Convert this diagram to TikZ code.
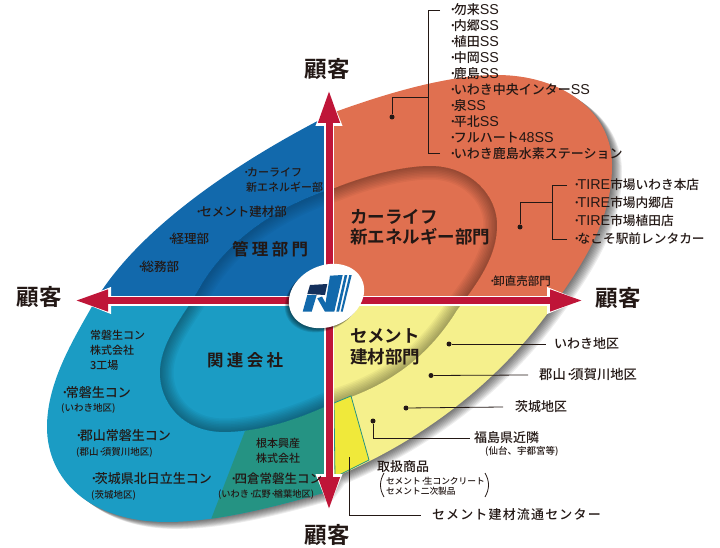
\documentclass[tikz,border=0pt]{standalone}
\usepackage{fontspec}
\setmainfont{Noto Sans CJK JP Medium}[BoldFont={Noto Sans CJK JP Bold}]
\newfontfamily\latinfont{Liberation Sans}
\usetikzlibrary{arrows.meta,shapes.geometric}

\definecolor{carorange}{HTML}{E07050}
\definecolor{kanriblue}{HTML}{1269AC}
\definecolor{kanrencyan}{HTML}{1B9CC4}
\definecolor{negiteal}{HTML}{259383}
\definecolor{cementyellow}{HTML}{F5F08C}
\definecolor{centeryellow}{HTML}{F0E93A}
\definecolor{axisred}{HTML}{BF1538}
\definecolor{inkdark}{HTML}{231815}
\definecolor{logonavy}{HTML}{14305C}

\newcommand{\outerblob}{(90,310) .. controls (130,235) and (230,165) .. (335,112) .. controls (390,92) and (450,75) .. (497,75) .. controls (560,75) and (612,110) .. (612,165) .. controls (612,215) and (590,255) .. (550,310) .. controls (505,372) and (435,435) .. (335,477) -- (323,493) .. controls (270,508) and (215,522) .. (167,522) .. controls (90,522) and (47,480) .. (47,427) .. controls (47,385) and (70,345) .. (90,310) -- cycle}
\newcommand{\innerblob}{(197,293) .. controls (225,240) and (280,205) .. (335,188) .. controls (375,172) and (410,166) .. (430,166) .. controls (470,166) and (497,195) .. (497,225) .. controls (497,255) and (480,280) .. (457,310) .. controls (425,362) and (382,388) .. (333,403) .. controls (300,418) and (265,431) .. (225,432) .. controls (180,432) and (160,400) .. (160,373) .. controls (160,345) and (180,320) .. (197,293) -- cycle}
\newcommand{\ldot}{{\bfseries ·}\kern-.24em}
\newcommand{\ltn}[1]{{\latinfont\fontsize{14.3}{15}\selectfont #1}}

\tikzset{
    txt/.style={inner sep=0pt,anchor=west,text=inkdark,align=left},
    big/.style={txt,font=\fontsize{13}{16}\selectfont},
    mid/.style={txt,font=\fontsize{12.5}{16}\selectfont},
    sml/.style={txt,font=\fontsize{11}{15}\selectfont},
    tiny/.style={txt,font=\fontsize{9.5}{11}\selectfont},
    dept/.style={txt,font=\fontsize{17.5}{20.5}\selectfont\bfseries},
    deptwide/.style={txt,font=\fontsize{16.5}{20}\selectfont\bfseries\addfontfeature{LetterSpace=20}},
    customer/.style={inner sep=0pt,text=inkdark,font=\fontsize{22.5}{24}\selectfont\bfseries},
    leader/.style={draw=inkdark,line width=.8pt},
    dotmark/.style={circle,fill=inkdark,inner sep=0pt,minimum size=5pt},
}

\begin{document}
\begin{tikzpicture}[x=1pt,y=-1pt]
    \useasboundingbox (0,0) rectangle (720,548);

    \foreach \s in {1,...,10}
        \fill[black,opacity=.07,shift={(\s,.7*\s)}] \outerblob;

    \begin{scope}
        \clip \outerblob;
        \fill[kanriblue] (0,0) rectangle (329,300);
        \fill[carorange] (329,0) rectangle (720,300);
        \fill[kanrencyan] (0,300) rectangle (329,548);
        \fill[cementyellow] (329,300) rectangle (720,548);
        \fill[negiteal] (245,431) -- (329,400) -- (329,548) -- (200,548) -- cycle;
    \end{scope}

    \begin{scope}
        \clip \innerblob;
        \fill[kanriblue] (0,0) rectangle (329,300);
        \fill[carorange] (329,0) rectangle (720,300);
        \fill[kanrencyan] (0,300) rectangle (329,548);
        \fill[cementyellow] (329,300) rectangle (720,548);
        \foreach \w in {3,6,...,27}
            \draw[black,opacity=.04,line width=\w pt] \innerblob;
        \fill[kanriblue,opacity=.35] (0,0) rectangle (329,300);
    \end{scope}

    \draw[negiteal,fill=centeryellow,line width=.8pt] (334,403) -- (351,396) -- (369,460) -- (335,477) -- cycle;

    \coordinate (axisC) at (329,300.5);
    \coordinate (axisN) at (329,90);
    \coordinate (axisE) at (583,300.5);
    \coordinate (axisS) at (329,510);
    \coordinate (axisW) at (75,300.5);

    \foreach \target in {axisN,axisE,axisS,axisW} {
        \draw[white,line width=10pt,-{Triangle[length=36pt,width=24pt]}] (axisC) -- (\target);
        \draw[axisred,line width=7pt,-{Triangle[length=33pt,width=20pt]}] (axisC) -- (\target);
    }

    \foreach \s in {1,...,6}
        \node[ellipse,fill=black,opacity=.1,inner sep=0pt,minimum width=78pt,minimum height=61pt,rotate=25] at (326.5-\s*.7,296+\s*.7) {};
    \node[ellipse,fill=white,inner sep=0pt,minimum width=78pt,minimum height=61pt,rotate=25] (hub) at (326.5,296) {};

    \fill[logonavy] (310,285) -- (327.3,284) -- (325,295) -- (307.3,294) -- cycle;
    \fill[kanriblue] (307.3,295) -- (316.7,295) -- (311.7,311.7) -- (302.7,311.7) -- cycle;
    \fill[kanriblue] (330,275.7) -- (342.7,275) -- (334.3,311.7) -- (325,311.7) -- (317.3,298.3) -- (322,296.5) -- (325.5,303) -- cycle;
    \fill[kanriblue] (344.7,275) -- (347.3,275) -- (339,311.7) -- (336.3,311.7) -- cycle;
    \fill[kanriblue] (349.3,275) -- (351.7,275) -- (342.7,311.7) -- (340.7,311.7) -- cycle;

    \node[customer] (custN) at (327,69) {顧客};
    \node[customer] (custE) at (618,298) {顧客};
    \node[customer] (custS) at (327,535) {顧客};
    \node[customer] (custW) at (39,297) {顧客};

    \node[dept] (carDept) at (350,227) {カーライフ\\[-.5pt]新エネルギー部門};
    \node[dept] (cementDept) at (350,347) {セメント\\建材部門};
    \node[deptwide] (kanriDept) at (232,249) {管理部門};
    \node[deptwide] (kanrenDept) at (207,360) {関連会社};

    \foreach \i/\t in {1/勿来\ltn{SS},2/内郷\ltn{SS},3/植田\ltn{SS},4/中岡\ltn{SS},5/鹿島\ltn{SS},6/いわき中央インター\ltn{SS},7/泉\ltn{SS},8/平北\ltn{SS},9/フルハート\ltn{48SS},10/いわき鹿島水素ステーション}
        \node[big] (ss\i) at (449,{10+15.9*(\i-1)}) {\ldot\t};

    \foreach \i/\t in {1/\ltn{TIRE}市場いわき本店,2/\ltn{TIRE}市場内郷店,3/\ltn{TIRE}市場植田店,4/なこそ駅前レンタカー}
        \node[big,font=\fontsize{12.7}{15}\selectfont] (tire\i) at (573,{185+18*(\i-1)}) {\ldot\t};

    \node[mid,font=\fontsize{11.5}{14}\selectfont] (oroshi) at (489,281) {\ldot 卸直売部門};

    \node[sml] (kanriA) at (243,180) {\ldot カーライフ\\\hspace*{3pt}新エネルギー部};
    \node[mid] (kanriB) at (195,212) {\ldot セメント建材部};
    \node[mid] (kanriC) at (167,239) {\ldot 経理部};
    \node[mid] (kanriD) at (137,267) {\ldot 総務部};

    \node[sml] (joban3) at (90,350) {常磐生コン\\株式会社\\3工場};
    \node[big] (jobanA) at (61,393) {\ldot 常磐生コン};
    \node[tiny] (jobanAsub) at (61,408) {(いわき地区)};
    \node[big] (jobanB) at (75,436) {\ldot 郡山常磐生コン};
    \node[tiny] (jobanBsub) at (76,452) {(郡山\ldot 須賀川地区)};
    \node[big] (jobanC) at (90,479) {\ldot 茨城県北日立生コン};
    \node[tiny] (jobanCsub) at (91,495) {(茨城地区)};
    \node[sml] (nemoto) at (256,450.5) {根本興産\\株式会社};
    \node[mid] (yotsukura) at (230,479) {\ldot 四倉常磐生コン};
    \node[tiny,font=\fontsize{9.2}{11}\selectfont] (yotsukuraSub) at (218,495) {(いわき\ldot 広野\ldot 楢葉地区)};

    \node[big] (areaA) at (554,344) {いわき地区};
    \node[big,font=\fontsize{13.3}{16}\selectfont] (areaB) at (539,375) {郡山\ldot 須賀川地区};
    \node[big] (areaC) at (515,407) {茨城地区};
    \node[big] (areaD) at (474,438) {福島県近隣};
    \node[tiny] (areaDsub) at (485,451) {(仙台、宇都宮等)};

    \node[big] (goods) at (377,467) {取扱商品};
    \node[tiny,font=\fontsize{8.7}{10.5}\selectfont] (goodsSub) at (386,486) {セメント\ldot 生コンクリート\\セメント二次製品};
    \node[big,font=\fontsize{13}{16}\selectfont\addfontfeature{LetterSpace=9}] (center) at (432,515) {セメント建材流通センター};

    \coordinate (parenTL) at (384,473);
    \coordinate (parenBL) at (384,497);
    \coordinate (parenTR) at (485,473);
    \coordinate (parenBR) at (485,497);
    \draw[leader] (parenTL) to[bend right=30] (parenBL);
    \draw[leader] (parenTR) to[bend left=30] (parenBR);

    \node[dotmark] (ssDot) at (392,117) {};
    \node[dotmark] (tireDot) at (520,227) {};
    \node[dotmark] (dotA) at (449,344) {};
    \node[dotmark] (dotB) at (431,375.5) {};
    \node[dotmark] (dotC) at (406,408) {};
    \node[dotmark] (dotD) at (373,421) {};

    \coordinate (ssBar) at (428,97);
    \coordinate (tireBar) at (552,202);
    \coordinate (yard) at (349,457);

    \draw[leader] ([xshift=-9pt]ss1.west) -| (ssBar);
    \draw[leader] ([xshift=-9pt]ss10.west) -| (ssBar);
    \draw[leader] (ssBar) -| (ssDot);

    \draw[leader] ([xshift=-6pt]tire1.west) -| (tireBar);
    \draw[leader] ([xshift=-6pt]tire4.west) -| (tireBar);
    \draw[leader] (tireBar) -| (tireDot);

    \draw[leader] (dotA) -- ([xshift=-8pt]areaA.west);
    \draw[leader] (dotB) -- ([xshift=-11pt]areaB.west);
    \draw[leader] (dotC) -- ([xshift=-12pt]areaC.west);
    \draw[leader] (dotD) |- ([xshift=-4pt]areaD.west);
    \draw[leader] (yard) |- ([xshift=-11pt]center.west);
\end{tikzpicture}
\end{document}
